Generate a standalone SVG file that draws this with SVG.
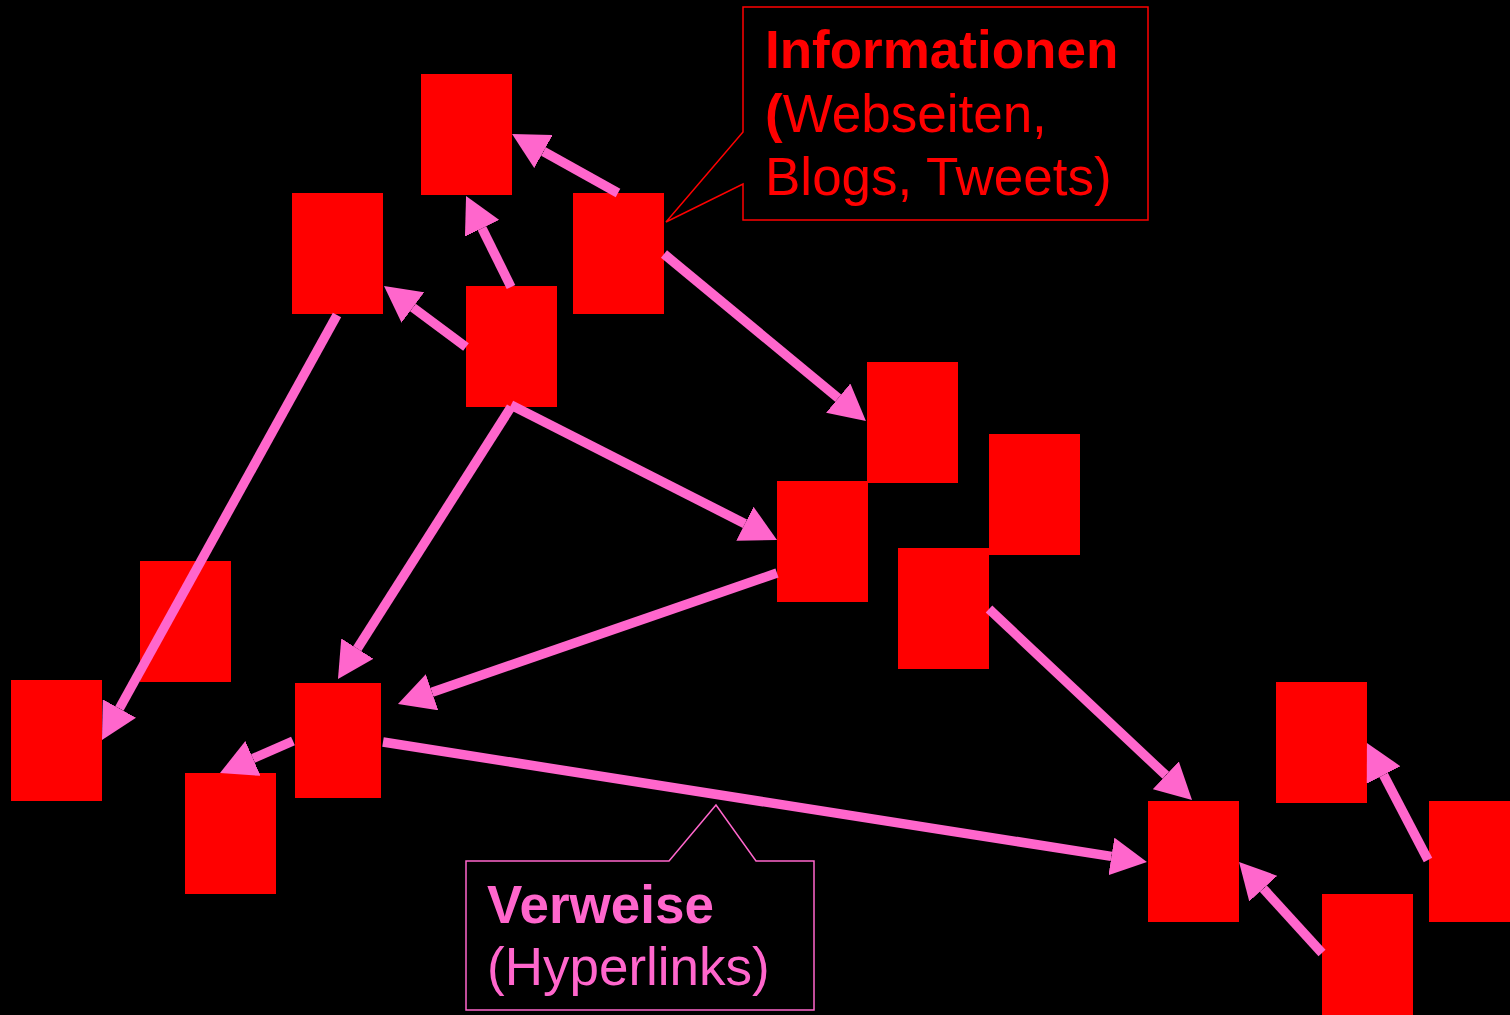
<svg xmlns="http://www.w3.org/2000/svg" width="1510" height="1015" viewBox="0 0 1510 1015">
  <style>
    .node { fill: #FF0000; }
    .link { stroke: #FF66CC; stroke-width: 9.5; fill: none; marker-end: url(#head); }
    .txt { font-family: "Liberation Sans", Arial, sans-serif; font-size: 53px; }
    .b { font-weight: bold; }
  </style>
  <defs>
    <marker id="head" markerUnits="userSpaceOnUse" viewBox="0 -19 36 38" refX="0" refY="0" markerWidth="36" markerHeight="38" orient="auto">
      <path d="M0,-19 L36,0 L0,19 z" fill="#FF66CC"/>
    </marker>
  </defs>
  <rect width="1510" height="1015" fill="#000000"/>

  <!-- pages / documents -->
  <g id="n-a"><rect class="node" x="421" y="74" width="91" height="121"/></g>
  <g id="n-b"><rect class="node" x="292" y="193" width="91" height="121"/></g>
  <g id="n-c"><rect class="node" x="466" y="286" width="91" height="121"/></g>
  <g id="n-d"><rect class="node" x="573" y="193" width="91" height="121"/></g>
  <g id="n-e"><rect class="node" x="867" y="362" width="91" height="121"/></g>
  <g id="n-f"><rect class="node" x="989" y="434" width="91" height="121"/></g>
  <g id="n-g"><rect class="node" x="777" y="481" width="91" height="121"/></g>
  <g id="n-h"><rect class="node" x="898" y="548" width="91" height="121"/></g>
  <g id="n-i"><rect class="node" x="140" y="561" width="91" height="121"/></g>
  <g id="n-j"><rect class="node" x="11" y="680" width="91" height="121"/></g>
  <g id="n-k"><rect class="node" x="295" y="683" width="86" height="115"/></g>
  <g id="n-l"><rect class="node" x="185" y="773" width="91" height="121"/></g>
  <g id="n-m"><rect class="node" x="1148" y="801" width="91" height="121"/></g>
  <g id="n-n"><rect class="node" x="1276" y="682" width="91" height="121"/></g>
  <g id="n-o"><rect class="node" x="1429" y="801" width="91" height="121"/></g>
  <g id="n-p"><rect class="node" x="1322" y="894" width="91" height="121"/></g>

  <!-- hyperlinks -->
  <g id="links">
    <line class="link" x1="618" y1="193" x2="543.5" y2="151.5"/>
    <line class="link" x1="511" y1="287" x2="482" y2="228.3"/>
    <line class="link" x1="466" y1="347" x2="412.9" y2="307.5"/>
    <line class="link" x1="337" y1="315" x2="119.4" y2="708.5"/>
    <line class="link" x1="664" y1="254" x2="838.2" y2="398.1"/>
    <line class="link" x1="511" y1="405" x2="744.9" y2="523.7"/>
    <line class="link" x1="511" y1="407" x2="357.3" y2="648.6"/>
    <line class="link" x1="777" y1="573" x2="432" y2="692.2"/>
    <line class="link" x1="293" y1="741" x2="253" y2="758.5"/>
    <line class="link" x1="383" y1="742" x2="1111.4" y2="856.4"/>
    <line class="link" x1="989" y1="609" x2="1165.8" y2="775.3"/>
    <line class="link" x1="1322" y1="953" x2="1263.3" y2="888.6"/>
    <line class="link" x1="1428" y1="860" x2="1383.6" y2="775"/>
  </g>

  <!-- callout: information -->
  <g id="callout-info">
    <path d="M743,132 L743,7 L1148,7 L1148,220 L743,220 L743,184 L666,222 Z" fill="#000000" stroke="#FF0000" stroke-width="1.5"/>
    <text class="txt b" x="765" y="68" fill="#FF0000">Informationen</text>
    <text class="txt" x="765" y="132" fill="#FF0000"><tspan class="b">(</tspan>Webseiten,</text>
    <text class="txt" x="765" y="195" fill="#FF0000">Blogs, Tweets)</text>
  </g>

  <!-- callout: hyperlinks -->
  <g id="callout-links">
    <path d="M669,861 L716,805 L756,861 L814,861 L814,1010 L466,1010 L466,861 Z" fill="#000000" stroke="#FF66CC" stroke-width="1.5"/>
    <text class="txt b" x="487" y="923" fill="#FF66CC">Verweise</text>
    <text class="txt" x="487" y="985" fill="#FF66CC">(Hyperlinks)</text>
  </g>
</svg>
